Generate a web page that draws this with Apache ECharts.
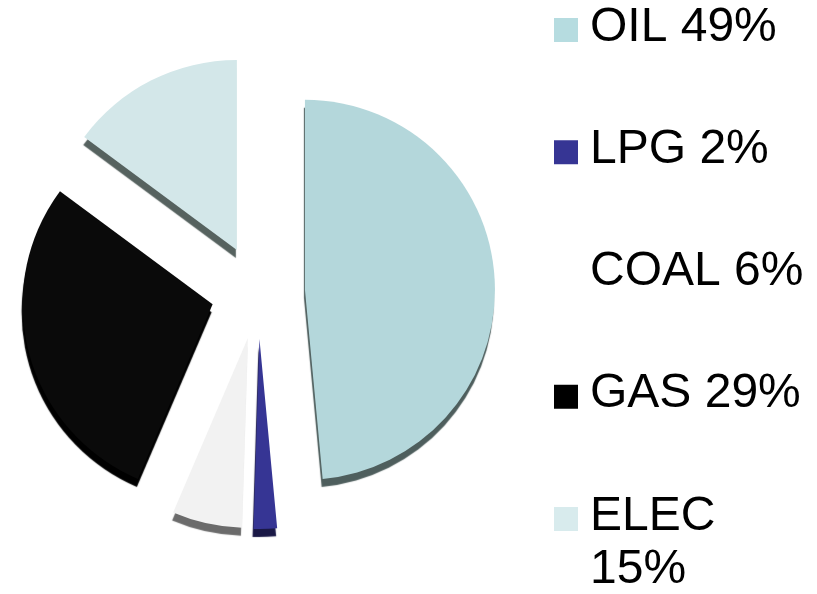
<!DOCTYPE html>
<html>
<head>
<meta charset="utf-8">
<script src="https://cdn.jsdelivr.net/npm/echarts@6/dist/echarts.min.js"></script>
<style>
  html, body { margin: 0; padding: 0; background: #ffffff; }
  #chart { width: 817px; height: 594px; }
</style>
</head>
<body>
<div id="chart"></div>
<script>
// ---- data ----
const categories = ['OIL', 'LPG', 'COAL', 'GAS', 'ELEC'];
const shares = [49, 2, 6, 29, 15];

// ---- styles ----
const sliceColors = ['#b4d7db', '#363594', '#f2f2f2', '#0a0a0a', '#d3e7e9'];
const sideColors = ['#4e5e5d', '#1a1846', '#6b6b6b', '#000000', '#56625f'];
const legendColors = ['#b6dce0', '#363594', '#ffffff', '#000000', '#d8ebed'];

const chart = echarts.init(document.getElementById('chart'), null, { renderer: 'canvas' });

const pieData = categories.map((name, i) => ({
  name: name,
  value: shares[i],
  selected: true,
  itemStyle: {
    color: sliceColors[i],
    shadowColor: sideColors[i],
    shadowBlur: 1,
    shadowOffsetX: -1,
    shadowOffsetY: 8
  }
}));

const FONT = '48px "Liberation Sans", Arial, sans-serif';
const legendTop = 1;
const rowStep = 122.25;
const legendGraphics = [];
categories.forEach((name, i) => {
  const top = legendTop + i * rowStep;
  legendGraphics.push({
    type: 'rect',
    shape: { x: 554, y: top + 17, width: 24, height: 24 },
    style: { fill: legendColors[i] },
    silent: true
  });
  legendGraphics.push({
    type: 'text',
    x: 590,
    y: top,
    style: {
      text: name + ' ' + shares[i] + '%',
      font: FONT,
      fill: '#000000',
      width: 224,
      overflow: 'break',
      lineHeight: 53,
      align: 'left',
      verticalAlign: 'top'
    },
    silent: true
  });
});

chart.setOption({
  animation: false,
  backgroundColor: '#ffffff',
  legend: { show: false },
  tooltip: { show: false },
  graphic: legendGraphics,
  series: [{
    type: 'pie',
    center: [258, 292],
    radius: 190,
    startAngle: 90,
    clockwise: true,
    selectedMode: 'multiple',
    selectedOffset: 47,
    avoidLabelOverlap: false,
    label: { show: false },
    labelLine: { show: false },
    itemStyle: { borderWidth: 0 },
    emphasis: { disabled: true },
    data: pieData
  }]
});
</script>
</body>
</html>
